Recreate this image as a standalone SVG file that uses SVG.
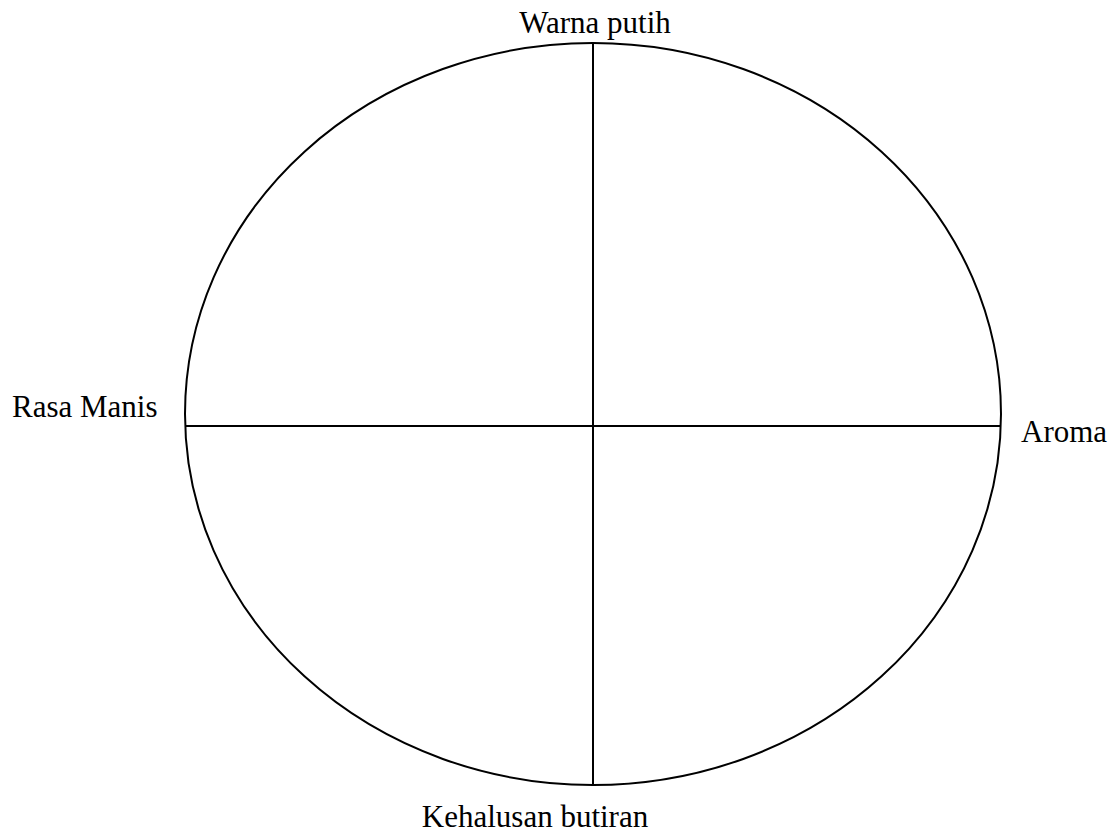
<svg xmlns="http://www.w3.org/2000/svg" width="1118" height="835" viewBox="0 0 1118 835">
<style>
.s{fill:none;stroke:#000;stroke-width:2}
.t{font-family:"Liberation Serif","Times New Roman",serif;font-size:31px;fill:#000}
</style>
<rect width="1118" height="835" fill="#fff"/>
<g id="circle"><ellipse class="s" cx="593" cy="414" rx="408" ry="371"/></g>
<g id="connectors">
<line class="s" x1="593" y1="43" x2="593" y2="785"/>
<line class="s" x1="185" y1="426" x2="1001" y2="426"/>
</g>
<g id="top"><text class="t" x="595" y="33" text-anchor="middle">Warna putih</text></g>
<g id="left"><text class="t" x="12" y="417">Rasa Manis</text></g>
<g id="right"><text class="t" x="1021" y="442">Aroma</text></g>
<g id="bottom"><text class="t" x="535" y="827" text-anchor="middle">Kehalusan butiran</text></g>
</svg>
